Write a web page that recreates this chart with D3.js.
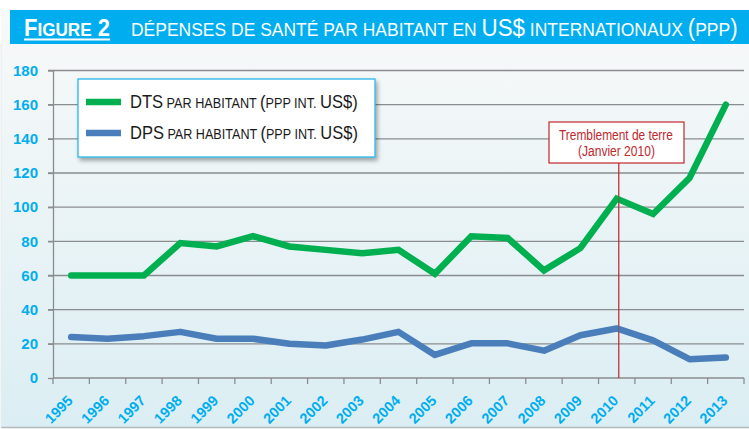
<!DOCTYPE html>
<html><head><meta charset="utf-8">
<script src="https://cdn.jsdelivr.net/npm/d3@7"></script>
<style>html,body{margin:0;padding:0;background:#fff;}svg{display:block;}</style>
</head><body>
<script>
const years = ["1995","1996","1997","1998","1999","2000","2001","2002","2003","2004","2005","2006","2007","2008","2009","2010","2011","2012","2013"];
const dts = [60,60,60,79,77,83,77,75,73,75,61,83,82,63,76,105,96,117,160];
const dps = [24,23,24.5,27,23,23,20,19,22.5,27,13.5,20.3,20.3,16,25,29,22,11,12];
const yTicks = [0,20,40,60,80,100,120,140,160,180];
const W = 749, H = 429;
const svg = d3.select("body").append("svg").attr("width", W).attr("height", H);
const defs = svg.append("defs");
const grad = defs.append("linearGradient").attr("id","bg").attr("x1",0).attr("y1",0).attr("x2",0).attr("y2",1);
grad.append("stop").attr("offset","0%").attr("stop-color","#f8f9f9");
grad.append("stop").attr("offset","100%").attr("stop-color","#dbeef3");
const sh = defs.append("filter").attr("id","sh").attr("x","-10%").attr("y","-10%").attr("width","130%").attr("height","140%");
sh.append("feDropShadow").attr("dx",2).attr("dy",3).attr("stdDeviation",2).attr("flood-color","#000").attr("flood-opacity",0.35);

// panel background
svg.append("rect").attr("x",1).attr("y",10).attr("width",W-1).attr("height",417).attr("fill","url(#bg)");
svg.append("line").attr("x1",1).attr("x2",W).attr("y1",427.5).attr("y2",427.5).attr("stroke","#b5b9bb").attr("stroke-width",1.5);
svg.append("line").attr("x1",1).attr("x2",1).attr("y1",44).attr("y2",428).attr("stroke","#e6eaec").attr("stroke-width",1);

// title bar
svg.append("rect").attr("x",10).attr("y",10).attr("width",W-10).attr("height",34).attr("fill","#00aeef");
const FN = "'Liberation Sans Narrow','Arial Narrow','Liberation Sans',Arial,sans-serif";
function fitX(sel, x0, targetW){
  const w = sel.node().getComputedTextLength();
  sel.attr("transform", `translate(${x0},0) scale(${targetW/w},1) translate(${-x0},0)`);
}
const t1 = svg.append("text").attr("x",24).attr("y",36).attr("fill","#fff").attr("font-family",FN).attr("font-weight","bold");
t1.append("tspan").attr("font-size",23).text("F");
t1.append("tspan").attr("font-size",18).text("IGURE");
t1.append("tspan").attr("font-size",23).text(" 2");
fitX(t1, 24, 86);
svg.append("line").attr("x1",24).attr("x2",110).attr("y1",39.5).attr("y2",39.5).attr("stroke","#fff").attr("stroke-width",2);
const t2 = svg.append("text").attr("x",131).attr("y",36).attr("fill","#fff").attr("font-family",FN);
t2.append("tspan").attr("font-size",18).text("DÉPENSES DE SANTÉ PAR HABITANT EN ");
t2.append("tspan").attr("font-size",23).text("US$");
t2.append("tspan").attr("font-size",18).text(" INTERNATIONAUX ");
t2.append("tspan").attr("font-size",23).text("(");
t2.append("tspan").attr("font-size",18).text("PPP");
t2.append("tspan").attr("font-size",23).text(")");
fitX(t2, 131, 607);

// scales
const x = d3.scaleBand().domain(years).range([53, 744]);
const y = d3.scaleLinear().domain([0,180]).range([378, 70.5]);
const xc = d => x(d) + x.bandwidth()/2;

// gridlines
const grid = svg.append("g");
grid.selectAll("line").data(yTicks.filter(v=>v>0)).join("line")
  .attr("x1",48).attr("x2",744).attr("y1",d=>y(d)).attr("y2",d=>y(d))
  .attr("stroke","#8a8d8f").attr("stroke-width",1.3);
// y axis
const yAxis = svg.append("g").attr("transform","translate(53,0)")
  .call(d3.axisLeft(y).tickValues(yTicks).tickSize(5).tickPadding(10).tickSizeOuter(0));
yAxis.select(".domain").attr("stroke","#8a8d8f").attr("stroke-width",1.3);
yAxis.selectAll(".tick line").attr("stroke","#8a8d8f").attr("stroke-width",1.3);
yAxis.selectAll("text").attr("fill","#00aeef").attr("font-family","'Liberation Sans',Arial,sans-serif").attr("font-weight","bold").attr("font-size",15);
// x axis
const bounds = years.map(d=>x(d)).concat([744]);
svg.append("line").attr("x1",53).attr("x2",744).attr("y1",378).attr("y2",378).attr("stroke","#8a8d8f").attr("stroke-width",1.3);
svg.append("g").selectAll("line").data(bounds).join("line")
  .attr("x1",d=>d).attr("x2",d=>d).attr("y1",378).attr("y2",384).attr("stroke","#8a8d8f").attr("stroke-width",1.3);
svg.append("g").selectAll("text").data(years).join("text")
  .attr("transform",d=>`translate(${xc(d)-1},398) rotate(-45)`)
  .attr("text-anchor","end").attr("dy","0.35em")
  .attr("fill","#00aeef").attr("font-family","'Liberation Sans',Arial,sans-serif").attr("font-weight","bold").attr("font-size",14.5)
  .text(d=>d);

// annotation line
const ax = xc("2010")+2;
svg.append("line").attr("x1",ax).attr("x2",ax).attr("y1",163).attr("y2",378).attr("stroke","#c0272d").attr("stroke-opacity",0.75).attr("stroke-width",1.3);

// lines
const line = d3.line().x((d,i)=>xc(years[i])).y(d=>y(d));
svg.append("path").datum(dps).attr("d",line).attr("fill","none").attr("stroke","#4a7ebb").attr("stroke-width",6.5).attr("stroke-linecap","round").attr("stroke-linejoin","round");
svg.append("path").datum(dts).attr("d",line).attr("fill","none").attr("stroke","#00b050").attr("stroke-width",6.5).attr("stroke-linecap","round").attr("stroke-linejoin","miter");
svg.append("line").attr("x1",ax).attr("x2",ax).attr("y1",163).attr("y2",378).attr("stroke","#c0272d").attr("stroke-opacity",0.45).attr("stroke-width",1.3);

// annotation box
svg.append("rect").attr("x",549).attr("y",122).attr("width",135).attr("height",41).attr("fill","#fff").attr("stroke","#c0272d").attr("stroke-width",1.2);
const a1 = svg.append("text").attr("x",559).attr("y",140).attr("fill","#c0272d").attr("font-family",FN).attr("font-size",14.5).text("Tremblement de terre");
fitX(a1, 559, 114);
const a2 = svg.append("text").attr("x",578).attr("y",156).attr("fill","#c0272d").attr("font-family",FN).attr("font-size",14.5).text("(Janvier 2010)");
fitX(a2, 578, 77);

// legend
svg.append("rect").attr("x",78).attr("y",79).attr("width",297).attr("height",78).attr("fill","#fff").attr("stroke","#29b6ec").attr("stroke-width",1.3).attr("filter","url(#sh)");
const legendItems = [{k:"DTS",c:"#00b050",y:102},{k:"DPS",c:"#4a7ebb",y:133}];
legendItems.forEach(it=>{
  svg.append("line").attr("x1",86).attr("x2",121).attr("y1",it.y).attr("y2",it.y).attr("stroke",it.c).attr("stroke-width",6.5);
  const t = svg.append("text").attr("x",130).attr("y",it.y+6.5).attr("fill","#1a1a1a").attr("font-family","'Liberation Sans',Arial,sans-serif");
  t.append("tspan").attr("font-size",19).text(it.k);
  t.append("tspan").attr("font-size",14.5).text(" PAR HABITANT ");
  t.append("tspan").attr("font-size",19).text("(");
  t.append("tspan").attr("font-size",14.5).text("PPP INT. ");
  t.append("tspan").attr("font-size",19).text("US$)");
  fitX(t, 130, 228);
});
</script>
</body></html>
